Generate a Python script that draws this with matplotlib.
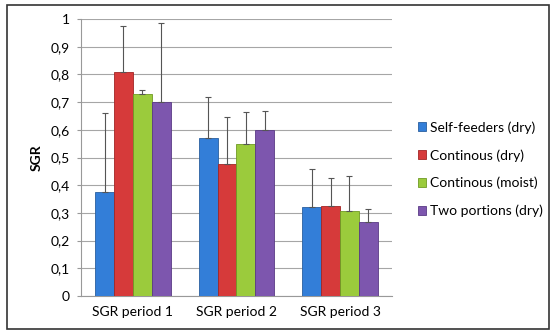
import numpy as np
import matplotlib.pyplot as plt
from matplotlib.patches import Rectangle

plt.rcParams['font.family'] = ['Lato', 'DejaVu Sans']

periods = ['SGR period 1', 'SGR period 2', 'SGR period 3']
groups = ['Self-feeders (dry)', 'Continous (dry)', 'Continous (moist)', 'Two portions (dry)']
sgr = [
    [0.375, 0.57, 0.322],
    [0.81, 0.477, 0.325],
    [0.73, 0.548, 0.307],
    [0.70, 0.60, 0.268],
]
err_top = [
    [0.66, 0.718, 0.458],
    [0.975, 0.646, 0.426],
    [0.745, 0.665, 0.434],
    [0.985, 0.668, 0.313],
]
colors = ['#337ed8', '#d63a3a', '#9bcb3c', '#7d56ae']
edges = ['#2a5f9f', '#a22525', '#6f9a24', '#5a3a85']
yticks = np.arange(0, 1.01, 0.1)
ytick_labels = ['0' if v == 0 else ('1' if v == 1 else f'{v:.1f}'.replace('.', ',')) for v in yticks]

fig = plt.figure(figsize=(5.56, 3.33), dpi=100)
ax = fig.add_axes([0.1457, 0.111, 0.559, 0.832])

x = np.arange(len(periods))
w = 0.182
for i, g in enumerate(groups):
    pos = x + (i - 1.5) * w
    vals = np.array(sgr[i])
    up = np.array(err_top[i]) - vals
    ax.bar(pos, vals, w, color=colors[i], edgecolor=edges[i], linewidth=0.6,
           label=g, zorder=3)
    ax.errorbar(pos, vals, yerr=[np.zeros_like(up), up], fmt='none',
                ecolor='#555555', elinewidth=0.8, capsize=2.5, capthick=0.8, zorder=4)

ax.set_xlim(-0.5, 2.5)
ax.set_ylim(0, 1)
ax.set_yticks(yticks)
ax.set_yticklabels(ytick_labels, fontsize=10)
ax.set_xticks(x)
ax.set_xticklabels(periods, fontsize=10)
ax.tick_params(axis='x', length=0, pad=7)
ax.tick_params(axis='y', length=3, color='#999999', pad=5)
ax.grid(axis='y', color='#a6a6a6', linewidth=0.8, zorder=0)
for s in ['top', 'right']:
    ax.spines[s].set_visible(False)
ax.spines['left'].set_color('#999999')
ax.spines['bottom'].set_color('#999999')
ax.set_ylabel('SGR', fontsize=10, fontweight='bold', labelpad=6)

ax.legend(loc='center left', bbox_to_anchor=(1.065, 0.458), frameon=False,
          fontsize=10, handlelength=0.6, handleheight=0.6, handletextpad=0.3,
          labelspacing=1.1, borderaxespad=0)

fig.patches.append(Rectangle((0.012, 0.012), 0.976, 0.973, transform=fig.transFigure,
                             fill=False, edgecolor='#333333', linewidth=1.2))

fig.savefig('out.png', dpi=100)
